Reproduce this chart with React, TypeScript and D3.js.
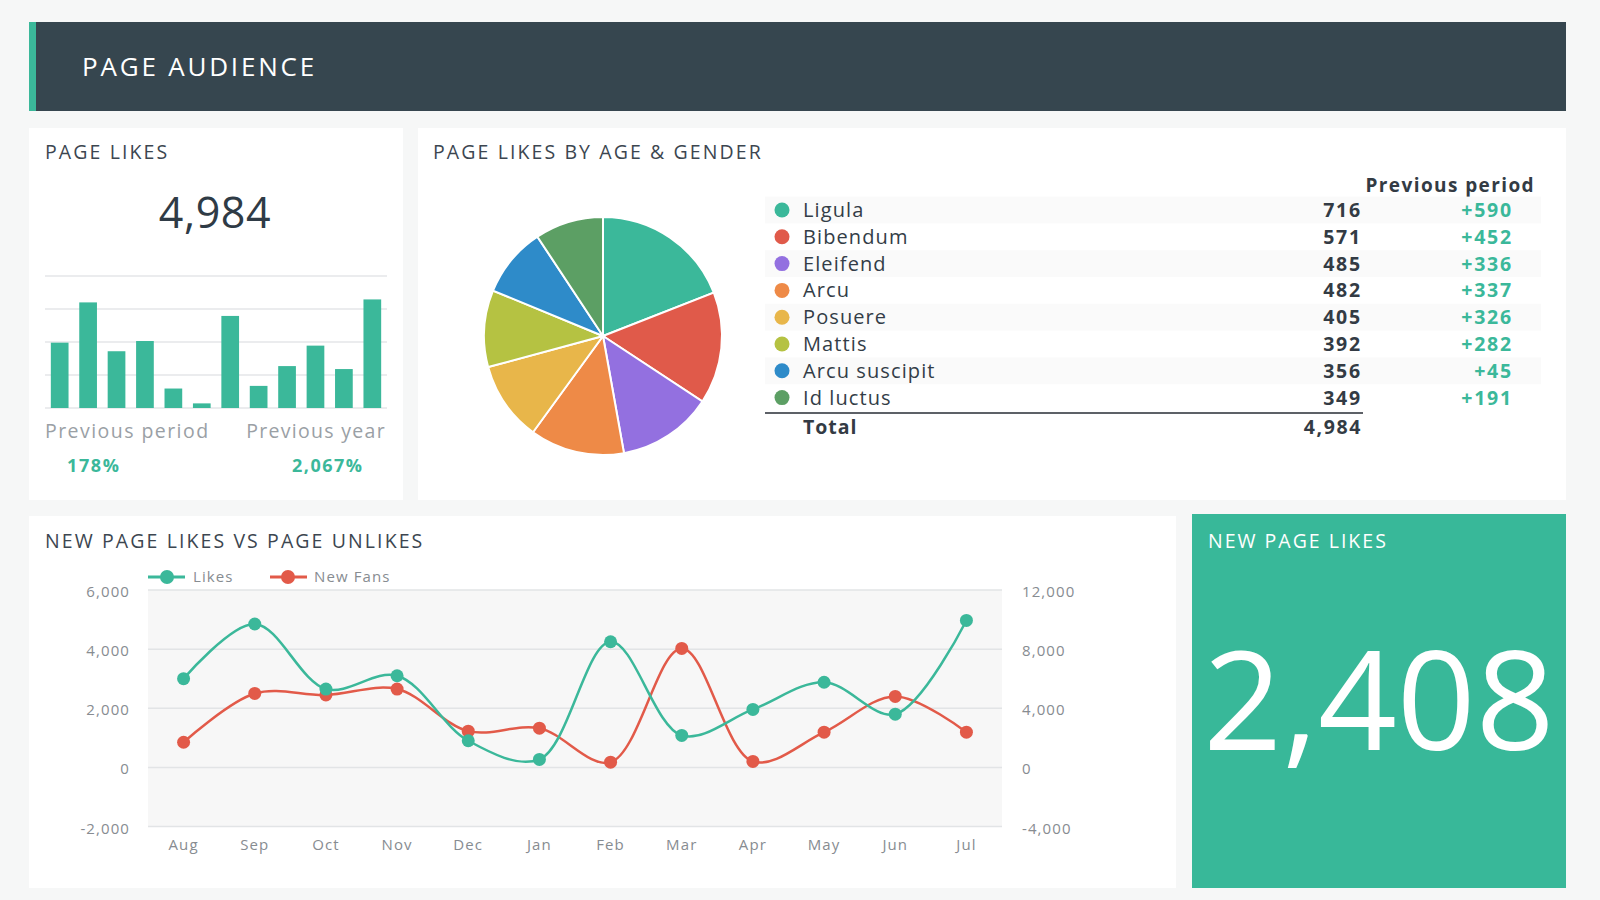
import React from "react";
import * as d3 from "d3";

const FONT = "'Open Sans', 'Noto Sans', sans-serif";
const TEAL = "#3bb89a";
const RED = "#e25a49";

// ---- Page likes (small bar chart) ----
const pageLikesTotal = "4,984";
const barValues = [198, 320, 172, 203, 59, 14, 279, 67, 127, 189, 118, 329];
const barTicks = [0, 100, 200, 300, 400];
const comparisonLabels = ["Previous period", "Previous year"];
const comparisonValues = ["178%", "2,067%"];

// ---- Page likes by age & gender ----
const segmentNames = ["Ligula", "Bibendum", "Eleifend", "Arcu", "Posuere", "Mattis", "Arcu suscipit", "Id luctus"];
const segmentValues = [716, 571, 485, 482, 405, 392, 356, 349];
const segmentDeltas = ["+590", "+452", "+336", "+337", "+326", "+282", "+45", "+191"];
const segmentColors = ["#3bb89a", "#e05a4a", "#9370e0", "#ee8a47", "#e8b64a", "#b5c242", "#2e8bc9", "#5c9f64"];
const segmentTotal = "4,984";

// ---- New page likes vs page unlikes ----
const months = ["Aug", "Sep", "Oct", "Nov", "Dec", "Jan", "Feb", "Mar", "Apr", "May", "Jun", "Jul"];
const likes = [3000, 4850, 2650, 3100, 900, 270, 4250, 1080, 1960, 2880, 1800, 4970];
const newFans = [1700, 5000, 4900, 5300, 2450, 2650, 350, 8050, 400, 2380, 4800, 2380];
const leftTicks = [-2000, 0, 2000, 4000, 6000];
const rightTicks = [-4000, 0, 4000, 8000, 12000];
const seriesNames = ["Likes", "New Fans"];

// ---- New page likes KPI ----
const newPageLikes = "2,408";

const fmt = (v: number) => d3.format(",")(v).replace("\u2212", "-");

export default function App() {
  // bar chart scales
  const bx = d3.scaleBand<number>().domain(barValues.map((_, i) => i)).range([45, 387]).paddingInner(0.377).paddingOuter(0.205);
  const by = d3.scaleLinear().domain([0, 400]).range([408, 276]);

  // pie
  const pie = d3.pie<number>().sort(null).value((d) => d);
  const arcs = pie(segmentValues);
  const arc = d3.arc<d3.PieArcDatum<number>>().innerRadius(0).outerRadius(119);
  const rowY = d3.scaleBand<string>().domain(segmentNames).range([196.6, 411]);

  // line chart
  const PL = 148, PR = 1002, PT = 590, PB = 826.5;
  const lx = d3.scalePoint<string>().domain(months).range([PL, PR]).padding(0.5);
  const ly = d3.scaleLinear().domain([-2000, 6000]).range([PB, PT]);
  const ry = d3.scaleLinear().domain([-4000, 12000]).range([PB, PT]);
  const curve = d3.curveCatmullRom.alpha(0.5);
  const likesLine = d3.line<number>().x((_, i) => lx(months[i])!).y((d) => ly(d)).curve(curve);
  const fansLine = d3.line<number>().x((_, i) => lx(months[i])!).y((d) => ry(d)).curve(curve);

  const titleStyle = { fontFamily: FONT, fontSize: 19.5, fill: "#3c4650", letterSpacing: 2.1 } as const;
  const axisStyle = { fontSize: 15, fill: "#878c91", letterSpacing: 1.1 } as const;

  return (
    <svg width={1600} height={900} style={{ position: "absolute", left: 0, top: 0, fontFamily: FONT }}>
      <rect x={0} y={0} width={1600} height={900} fill="#f6f7f7" />

      {/* Header */}
      <rect x={29} y={22} width={1537} height={89} fill="#36464f" />
      <rect x={29} y={22} width={7} height={89} fill={TEAL} />
      <text x={82} y={76} fontSize={26} fill="#ffffff" letterSpacing={2.8}>PAGE AUDIENCE</text>

      {/* Panel 1: Page likes */}
      <rect x={29} y={128} width={374} height={372} fill="#ffffff" />
      <text x={45} y={159} {...titleStyle}>PAGE LIKES</text>
      <text x={215} y={228} textAnchor="middle" fontSize={43} fill="#2f3b46" letterSpacing={0.6}>{pageLikesTotal}</text>
      {barTicks.map((t) => (
        <line key={t} x1={45} x2={387} y1={by(t)} y2={by(t)} stroke="#e4e6e8" strokeWidth={1.5} />
      ))}
      {barValues.map((v, i) => (
        <rect key={i} x={bx(i)} y={by(v)} width={bx.bandwidth()} height={by(0) - by(v)} fill={TEAL} />
      ))}
      <text x={45} y={438} fontSize={19.5} fill="#9aa0a5" letterSpacing={1.45}>{comparisonLabels[0]}</text>
      <text x={386} y={438} textAnchor="end" fontSize={19.5} fill="#9aa0a5" letterSpacing={1.3}>{comparisonLabels[1]}</text>
      <text x={67} y={472} fontSize={18} fontWeight={700} fill={TEAL} letterSpacing={1.6}>{comparisonValues[0]}</text>
      <text x={292} y={472} fontSize={18} fontWeight={700} fill={TEAL} letterSpacing={1.5}>{comparisonValues[1]}</text>

      {/* Panel 2: Page likes by age & gender */}
      <rect x={418} y={128} width={1148} height={372} fill="#ffffff" />
      <text x={433} y={159} {...titleStyle}>PAGE LIKES BY AGE &amp; GENDER</text>
      <g transform="translate(603,336)">
        {arcs.map((a, i) => (
          <path key={i} d={arc(a)!} fill={segmentColors[i]} stroke="#ffffff" strokeWidth={2} />
        ))}
      </g>
      <text x={1535} y={192} textAnchor="end" fontSize={19} fontWeight={700} fill="#333b44" letterSpacing={1.4}>Previous period</text>
      {segmentNames.map((n, i) => {
        const y0 = rowY(n)!;
        const cy = y0 + rowY.bandwidth() / 2;
        return (
          <g key={n}>
            {i % 2 === 0 && <rect x={765} y={y0} width={776} height={rowY.bandwidth()} fill="#fafafa" />}
            <circle cx={782} cy={cy} r={7.5} fill={segmentColors[i]} />
            <text x={803} y={cy + 7} fontSize={20} fill="#333d47" letterSpacing={1.1}>{n}</text>
            <text x={1362} y={cy + 7} textAnchor="end" fontSize={19.5} fontWeight={700} fill="#333b44" letterSpacing={1.8}>{fmt(segmentValues[i])}</text>
            <text x={1513} y={cy + 7} textAnchor="end" fontSize={19.5} fontWeight={700} fill={TEAL} letterSpacing={1.8}>{segmentDeltas[i]}</text>
          </g>
        );
      })}
      <line x1={765} x2={1363} y1={413} y2={413} stroke="#5d6167" strokeWidth={2} />
      <text x={803} y={434} fontSize={19.5} fontWeight={700} fill="#333b44" letterSpacing={1}>Total</text>
      <text x={1362} y={434} textAnchor="end" fontSize={19.5} fontWeight={700} fill="#333b44" letterSpacing={1.6}>{segmentTotal}</text>

      {/* Panel 3: line chart */}
      <rect x={29} y={516} width={1147} height={372} fill="#ffffff" />
      <text x={45} y={548} {...titleStyle}>NEW PAGE LIKES VS PAGE UNLIKES</text>
      {/* legend */}
      <line x1={148} x2={185} y1={577} y2={577} stroke={TEAL} strokeWidth={3} />
      <circle cx={167} cy={577} r={7} fill={TEAL} />
      <text x={193} y={582} {...axisStyle}>{seriesNames[0]}</text>
      <line x1={270} x2={307} y1={577} y2={577} stroke={RED} strokeWidth={3} />
      <circle cx={288} cy={577} r={7} fill={RED} />
      <text x={314} y={582} {...axisStyle}>{seriesNames[1]}</text>

      <rect x={PL} y={PT} width={PR - PL} height={PB - PT} fill="#f7f7f7" />
      {leftTicks.map((t) => (
        <g key={t}>
          <line x1={PL} x2={PR} y1={ly(t)} y2={ly(t)} stroke="#e2e4e6" strokeWidth={1.5} />
          <text x={130} y={ly(t) + 7} textAnchor="end" {...axisStyle}>{fmt(t)}</text>
        </g>
      ))}
      {rightTicks.map((t) => (
        <text key={t} x={1022} y={ry(t) + 7} {...axisStyle}>{fmt(t)}</text>
      ))}
      {months.map((m) => (
        <text key={m} x={lx(m)} y={850} textAnchor="middle" {...axisStyle}>{m}</text>
      ))}
      <path d={fansLine(newFans)!} fill="none" stroke={RED} strokeWidth={2.5} />
      <path d={likesLine(likes)!} fill="none" stroke={TEAL} strokeWidth={2.5} />
      {newFans.map((v, i) => (
        <circle key={"f" + i} cx={lx(months[i])} cy={ry(v)} r={6.5} fill={RED} />
      ))}
      {likes.map((v, i) => (
        <circle key={"l" + i} cx={lx(months[i])} cy={ly(v)} r={6.5} fill={TEAL} />
      ))}

      {/* Panel 4: KPI */}
      <rect x={1192} y={514} width={374} height={374} fill="#38b899" />
      <text x={1208} y={548} fontSize={19.5} fill="#ffffff" letterSpacing={2}>NEW PAGE LIKES</text>
      <text x={1379} y={750} textAnchor="middle" fontSize={138} fill="#ffffff">{newPageLikes}</text>
    </svg>
  );
}
